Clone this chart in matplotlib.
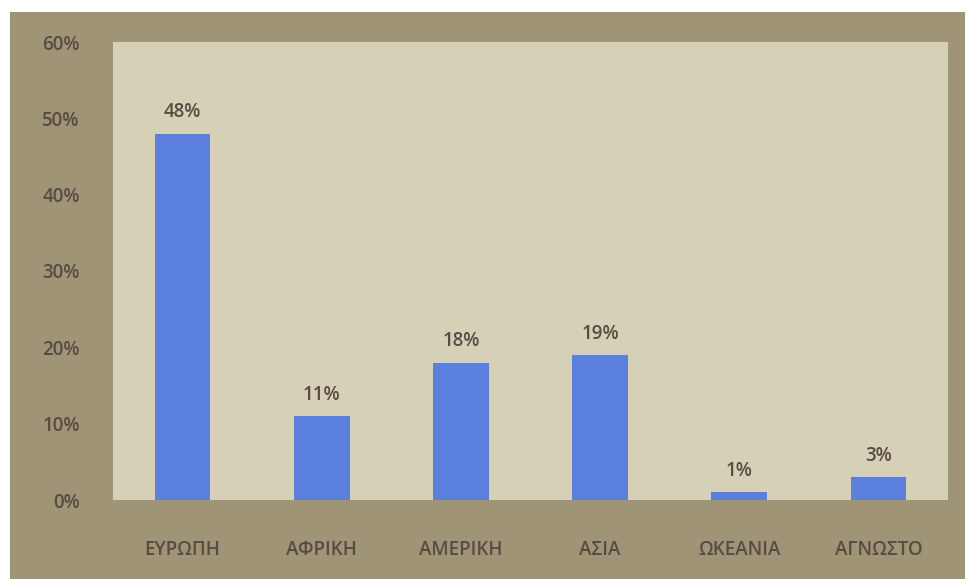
import matplotlib.pyplot as plt
from matplotlib.patches import Rectangle

plt.rcParams['font.family'] = ['Open Sans', 'DejaVu Sans']

categories = ['ΕΥΡΩΠΗ', 'ΑΦΡΙΚΗ', 'ΑΜΕΡΙΚΗ', 'ΑΣΙΑ', 'ΩΚΕΑΝΙΑ', 'ΑΓΝΩΣΤΟ']
values = [48, 11, 18, 19, 1, 3]
yticks = [0, 10, 20, 30, 40, 50, 60]

text_color = '#574c43'
frame_color = '#a09476'
plot_color = '#d6d0b6'
bar_color = '#5a7fdc'

fig = plt.figure(figsize=(9.67, 5.79), dpi=100, facecolor='white')
fig.patches.append(Rectangle((10 / 967, 0), 955 / 967, 567 / 579,
                             transform=fig.transFigure, facecolor=frame_color,
                             edgecolor='none', zorder=-1))

ax = fig.add_axes([113 / 967, 79 / 579, 835 / 967, 458 / 579])
ax.set_zorder(1)
ax.set_facecolor(plot_color)

x = range(len(categories))
bars = ax.bar(x, values, width=0.4, color=bar_color, zorder=2)
ax.bar_label(bars, labels=[f'{v}%' for v in values], padding=8,
             fontsize=13.5, fontweight='semibold', color=text_color)

ax.set_xlim(-0.5, len(categories) - 0.5)
ax.set_ylim(0, 60)
ax.set_xticks(list(x))
ax.set_xticklabels(categories, fontsize=13.5, fontweight='semibold',
                   color=text_color)
ax.set_yticks(yticks)
ax.set_yticklabels([f'{t}%' for t in yticks], fontsize=13.5,
                   fontweight='semibold', color=text_color)
ax.tick_params(axis='x', length=0, pad=29)
ax.tick_params(axis='y', length=0, pad=24)
for s in ax.spines.values():
    s.set_visible(False)

fig.savefig('out.png', dpi=100, facecolor='white')
